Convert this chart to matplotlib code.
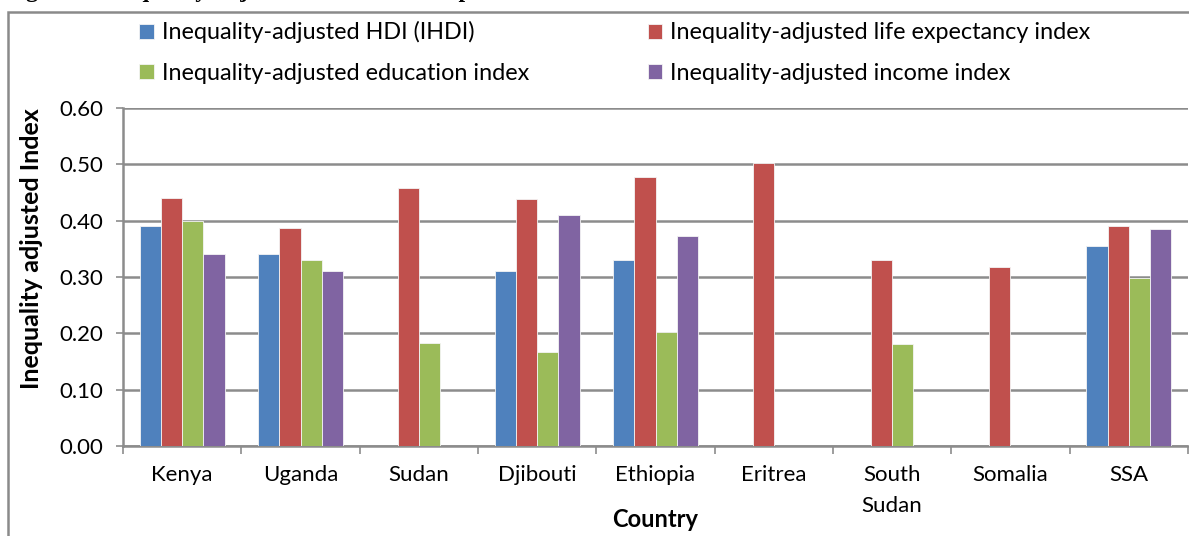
import numpy as np
import matplotlib.pyplot as plt
from matplotlib.patches import Rectangle

countries = ["Kenya", "Uganda", "Sudan", "Djibouti", "Ethiopia", "Eritrea",
             "South\nSudan", "Somalia", "SSA"]
ihdi = [0.39, 0.34, np.nan, 0.31, 0.33, np.nan, np.nan, np.nan, 0.355]
life_idx = [0.44, 0.387, 0.458, 0.439, 0.478, 0.503, 0.33, 0.318, 0.39]
edu_idx = [0.40, 0.33, 0.182, 0.166, 0.203, np.nan, 0.181, np.nan, 0.298]
income_idx = [0.34, 0.31, np.nan, 0.41, 0.372, np.nan, np.nan, np.nan, 0.386]

series = [
    ("Inequality-adjusted HDI (IHDI)", ihdi, "#4F81BD"),
    ("Inequality-adjusted life expectancy index", life_idx, "#C0504D"),
    ("Inequality-adjusted education index", edu_idx, "#9BBB59"),
    ("Inequality-adjusted income index", income_idx, "#8064A2"),
]

plt.rcParams['font.family'] = ['Lato', 'DejaVu Sans']
grid_col = "#8c8c8c"
W, H = 1189, 536

fig = plt.figure(figsize=(W / 100, H / 100), dpi=100)
ax = fig.add_axes([123 / W, 90 / H, 1065 / W, 338 / H])

x = np.arange(len(countries))
w = 0.18
bars = []
for i, (name, vals, col) in enumerate(series):
    b = ax.bar(x + (i - 1.5) * w, vals, w, color=col, edgecolor="#f4f4f4",
               linewidth=0.6, label=name, zorder=3)
    bars.append(b)

ax.set_xlim(-0.5, len(countries) - 0.5)
ax.set_ylim(0, 0.6)
yt = np.arange(0, 0.61, 0.1)
ax.set_yticks(yt)
ax.set_yticklabels([f"{v:.2f}" for v in yt], fontsize=16)
ax.yaxis.grid(True, color=grid_col, linewidth=1.8, zorder=0)
ax.tick_params(axis='y', length=5, width=1.2, color=grid_col, pad=9)

ax.set_xticks(x)
ax.set_xticklabels(countries, fontsize=16, linespacing=1.7, va='top')
ax.set_xticks(np.arange(-0.5, len(countries)), minor=True)
ax.tick_params(axis='x', which='major', length=0, pad=13.5)
ax.tick_params(axis='x', which='minor', length=6, width=1.2, color=grid_col)

for side in ("top", "right"):
    ax.spines[side].set_visible(False)
for side in ("left", "bottom"):
    ax.spines[side].set_color(grid_col)
    ax.spines[side].set_linewidth(1.8)

ax.set_ylabel("Inequality adjusted Index", fontsize=18, fontweight='bold')
ax.yaxis.set_label_coords(-80 / 1065, 197 / 338)
ax.set_xlabel("Country", fontsize=17, fontweight='bold')
ax.xaxis.set_label_coords(0.5, -62 / 338)

# legend: two rows, column order IHDI/education then life/income
fs = 16.8
order = [0, 2, 1, 3]
leg = fig.legend([bars[k] for k in order], [series[k][0] for k in order],
                 ncol=2, loc='upper left', bbox_to_anchor=(130 / W, 1 - 12 / H),
                 borderaxespad=0, frameon=False, fontsize=fs,
                 handlelength=0.64, handleheight=0.64, handletextpad=0.34,
                 columnspacing=5.06, labelspacing=0.82)

# chart frame and clipped caption above it
fig.patches.append(Rectangle((8 / W, -0.1), 1.2, 1 - 12 / H + 0.1,
                             transform=fig.transFigure, fill=False,
                             edgecolor="#8a8a8a", linewidth=1.8))
fig.text(5 / W, 1 + 3 / H,
         "Figure 4: Inequality-adjusted Human Development Index for IGAD Countries.",
         family='Liberation Serif', fontweight='bold', fontsize=17, va='baseline')

fig.savefig("out.png", dpi=100)
